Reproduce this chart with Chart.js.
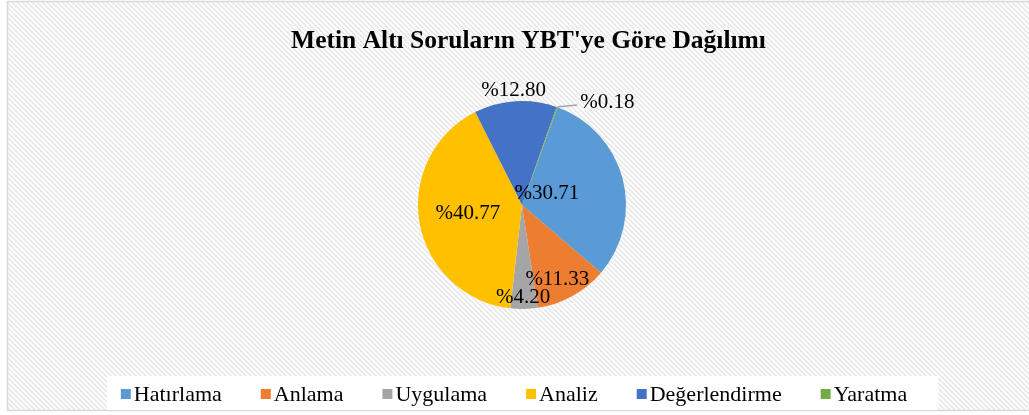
<!DOCTYPE html>
<html>
<head>
<meta charset="utf-8">
<script src="https://cdn.jsdelivr.net/npm/chart.js@4/dist/chart.umd.min.js"></script>
<style>
    html, body { margin: 0; padding: 0; background: #fff; }
    #wrap { position: relative; width: 1029px; height: 415px; }
</style>
</head>
<body>
<div id="wrap"><canvas id="pie-chart" width="1029" height="415"></canvas></div>
<script>
// ========== 数据 ==========
const categories = ['Hatırlama', 'Anlama', 'Uygulama', 'Analiz', 'Değerlendirme', 'Yaratma'];
const percentages = [30.71, 11.33, 4.20, 40.77, 12.80, 0.18];
const sliceColors = ['#5B9BD5', '#ED7D31', '#A5A5A5', '#FFC000', '#4472C4', '#70AD47'];
const chartTitle = "Metin Altı Soruların YBT'ye Göre Dağılımı";

// 标签位置 (相对于圆心, 以半径为单位)
const labelOffsets = [
    [0.24, -0.115],
    [0.34, 0.72],
    [0.01, 0.89],
    [-0.52, 0.08],
    [-0.08, -1.10],
    [0.82, -0.99]
];

const SERIF = '"Liberation Serif", "Times New Roman", serif';

// 斜线背景 + 边框 + 标题
const frameBackground = {
    id: 'frameBackground',
    beforeDraw(chart) {
        const ctx = chart.ctx;
        const s = 5;
        const tile = document.createElement('canvas');
        tile.width = s;
        tile.height = s;
        const t = tile.getContext('2d');
        t.fillStyle = '#ffffff';
        t.fillRect(0, 0, s, s);
        t.strokeStyle = '#e9e9e9';
        t.lineWidth = 1.8;
        [-s, 0, s].forEach(c => {
            t.beginPath();
            t.moveTo(-1, c - 1);
            t.lineTo(s + 1, c + s + 1);
            t.stroke();
        });
        ctx.save();
        ctx.fillStyle = '#ffffff';
        ctx.fillRect(0, 0, chart.width, chart.height);
        ctx.fillStyle = ctx.createPattern(tile, 'repeat');
        ctx.fillRect(8, 2, chart.width, 408);
        ctx.strokeStyle = '#d9d9d9';
        ctx.lineWidth = 1.5;
        ctx.strokeRect(7.5, 1.5, chart.width + 10, 409);

        // 标题
        ctx.font = 'bold 25.5px ' + SERIF;
        ctx.fillStyle = '#000000';
        ctx.textAlign = 'center';
        ctx.textBaseline = 'middle';
        ctx.fillText(chartTitle, 528.5, 41);
        ctx.restore();
    }
};

// 百分比标签
const pieLabels = {
    id: 'pieLabels',
    afterDatasetsDraw(chart) {
        const ctx = chart.ctx;
        const arcs = chart.getDatasetMeta(0).data;
        ctx.save();
        ctx.font = '21px ' + SERIF;
        ctx.fillStyle = '#000000';
        ctx.textAlign = 'center';
        ctx.textBaseline = 'middle';
        arcs.forEach((arc, i) => {
            const r = arc.outerRadius;
            const x = arc.x + labelOffsets[i][0] * r;
            const y = arc.y + labelOffsets[i][1] * r;
            if (Math.abs(labelOffsets[i][1]) > 0.95 && labelOffsets[i][0] > 0.5) {
                // 引导线
                const mid = (arc.startAngle + arc.endAngle) / 2;
                const ex = arc.x + Math.cos(mid) * r;
                const ey = arc.y + Math.sin(mid) * r;
                ctx.strokeStyle = '#a6a6a6';
                ctx.lineWidth = 1.5;
                ctx.beginPath();
                ctx.moveTo(ex, ey);
                ctx.lineTo(x - 30, y + 3);
                ctx.stroke();
            }
            ctx.fillText('%' + percentages[i].toFixed(2), x, y);
        });
        ctx.restore();
    }
};

// 图例
const bottomLegend = {
    id: 'bottomLegend',
    afterDraw(chart) {
        const ctx = chart.ctx;
        const box = 10, gap = 3, spacing = 39;
        ctx.save();
        ctx.font = '22px ' + SERIF;
        const widths = categories.map(c => box + gap + ctx.measureText(c).width);
        const total = widths.reduce((a, b) => a + b, 0) + spacing * (categories.length - 1);
        let x = 514 - total / 2;
        const y = 394;
        ctx.fillStyle = '#ffffff';
        ctx.fillRect(x - 14, 376, total + 45, 34);
        ctx.textBaseline = 'middle';
        categories.forEach((c, i) => {
            ctx.fillStyle = sliceColors[i];
            ctx.fillRect(x, y - 5, box, box);
            ctx.fillStyle = '#000000';
            ctx.fillText(c, x + box + gap, y + 1);
            x += widths[i] + spacing;
        });
        ctx.restore();
    }
};

new Chart(document.getElementById('pie-chart'), {
    type: 'pie',
    data: {
        labels: categories,
        datasets: [{
            data: percentages,
            backgroundColor: sliceColors,
            borderWidth: 0
        }]
    },
    options: {
        responsive: false,
        animation: false,
        rotation: 20,
        layout: {
            padding: { top: 101, bottom: 106, left: 15, right: 0 }
        },
        plugins: {
            legend: { display: false },
            tooltip: { enabled: false },
            title: { display: false }
        }
    },
    plugins: [frameBackground, pieLabels, bottomLegend]
});
</script>
</body>
</html>
